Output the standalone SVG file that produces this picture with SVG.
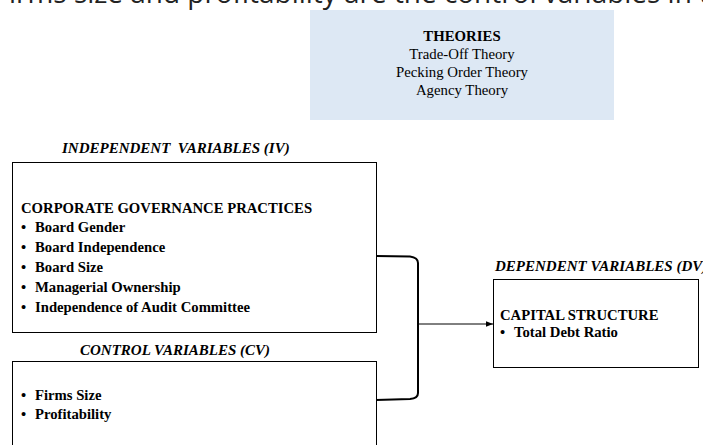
<svg xmlns="http://www.w3.org/2000/svg" width="703" height="445" viewBox="0 0 703 445">
<defs>
<marker id="ah" viewBox="0 0 10 10" refX="10" refY="5" markerWidth="7" markerHeight="7" markerUnits="userSpaceOnUse" orient="auto">
<path d="M0,1 L10,5 L0,9 z" fill="#000"/>
</marker>
</defs>
<style>
.box{fill:#fff;stroke:#000;stroke-width:1}
.s{font-family:"Liberation Serif","Times New Roman",serif;font-size:14.7px;fill:#000}
.b{font-weight:bold}
.lbl{font-family:"Liberation Serif","Times New Roman",serif;font-size:15px;font-weight:bold;font-style:italic;fill:#000;white-space:pre}
.th{font-family:"Liberation Serif","Times New Roman",serif;font-size:14.8px;fill:#000;text-anchor:middle}
</style>
<rect width="703" height="445" fill="#fff"/>
<text x="9" y="3" font-family="'Open Sans',sans-serif" font-size="27" fill="#222" textLength="700" lengthAdjust="spacingAndGlyphs">irms size and profitability are the control variables in t</text>
<g id="theories">
<rect x="310" y="10" width="304" height="110" fill="#dde8f4"/>
<text class="th" x="462" y="41" font-weight="bold" font-size="14px">THEORIES</text>
<text class="th" x="462" y="59">Trade-Off Theory</text>
<text class="th" x="462" y="77">Pecking Order Theory</text>
<text class="th" x="462" y="95">Agency Theory</text>
</g>
<g id="iv">
<text class="lbl" x="62" y="153" xml:space="preserve">INDEPENDENT  VARIABLES (IV)</text>
<rect class="box" x="12.5" y="162.5" width="364" height="170"/>
<text class="s b" x="21" y="213">CORPORATE GOVERNANCE PRACTICES</text>
<g class="s b">
<text x="21" y="232">•</text><text x="35" y="232">Board Gender</text>
<text x="21" y="252">•</text><text x="35" y="252">Board Independence</text>
<text x="21" y="272">•</text><text x="35" y="272">Board Size</text>
<text x="21" y="292">•</text><text x="35" y="292">Managerial Ownership</text>
<text x="21" y="312">•</text><text x="35" y="312">Independence of Audit Committee</text>
</g>
</g>
<g id="cv">
<text class="lbl" x="80" y="355">CONTROL VARIABLES (CV)</text>
<rect class="box" x="12.5" y="361.5" width="364" height="100"/>
<g class="s b">
<text x="21" y="400">•</text><text x="35" y="400">Firms Size</text>
<text x="21" y="419">•</text><text x="35" y="419">Profitability</text>
</g>
</g>
<g id="dv">
<text class="lbl" x="495" y="271">DEPENDENT VARIABLES (DV)</text>
<rect class="box" x="493.5" y="279.5" width="205" height="88"/>
<text class="s b" x="500" y="320">CAPITAL STRUCTURE</text>
<g class="s b">
<text x="500" y="337">•</text><text x="514" y="337">Total Debt Ratio</text>
</g>
</g>
<g id="connectors">
<path d="M376,256 L410,256.5 Q418,257.5 418,263 L418,393 Q418,398.5 410,399 L376,400" fill="none" stroke="#000" stroke-width="2"/>
<line x1="418" y1="324" x2="493" y2="324" stroke="#000" stroke-width="1" marker-end="url(#ah)"/>
</g>
</svg>
